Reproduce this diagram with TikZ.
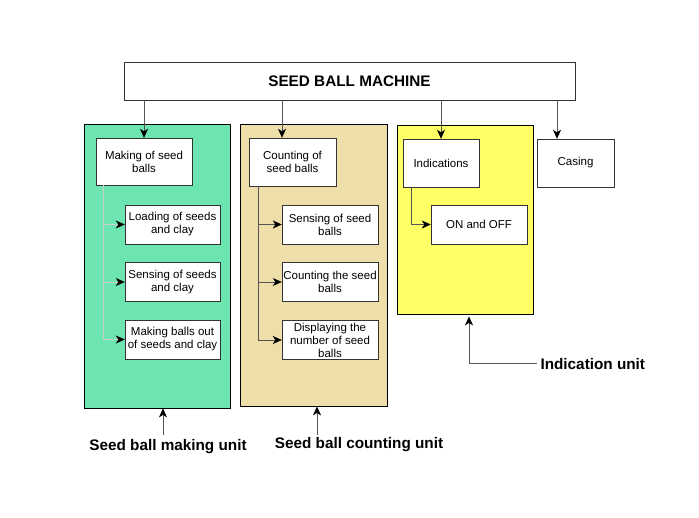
\documentclass[tikz,border=0pt]{standalone}
\usepackage{fontspec}
\setmainfont{Liberation Sans}
\usepackage{xcolor}
\usepackage{tikz}
\usetikzlibrary{arrows.meta,positioning,calc}
\definecolor{makeGreen}{HTML}{6CE5B1}
\definecolor{countTan}{HTML}{EEDFAA}
\definecolor{indYellow}{HTML}{FFFF66}
\definecolor{linkGray}{HTML}{555555}

\begin{document}
\begin{tikzpicture}[
    x=1pt, y=-1pt,
    every node/.style={font=\fontsize{11.5}{13}\selectfont},
    box/.style={draw=black!80,fill=white,align=center,inner sep=1pt},
    panel/.style={draw=black,thick,inner sep=0pt},
    link/.style={draw=linkGray,thick,-{Stealth[length=9pt,width=8pt,inset=2.5pt,color=black]}},
    unitlabel/.style={font=\bfseries\fontsize{15.3}{17}\selectfont}
  ]
  \useasboundingbox (0,0) rectangle (699,518);
  %% Unit panels
  \node[panel,fill=makeGreen,minimum width=146,minimum height=284] (pm) at (157,266) {};
  \node[panel,fill=countTan,minimum width=147,minimum height=282] (pc) at (313.5,265) {};
  \node[panel,fill=indYellow,minimum width=136,minimum height=189] (pi) at (465,219.5) {};
  %% Top level
  \node[box,minimum width=451,minimum height=38,font=\bfseries\fontsize{15.3}{17}\selectfont] (title) at (349.5,81) {SEED BALL MACHINE};
  \node[box,minimum width=96,minimum height=47] (mk) at (144,161.5) {Making of seed\\balls};
  \node[box,minimum width=87,minimum height=48] (ct) at (292.5,162) {Counting of\\seed balls};
  \node[box,minimum width=76,minimum height=48] (ind) at (441,163) {Indications};
  \node[box,minimum width=77,minimum height=48] (cas) at (575.5,163) {Casing};
  \foreach \t/\dx in {mk/0, ct/-10.5, ind/0, cas/-18.5}
    \draw[link] ([xshift=\dx]\t.north |- title.south) -- ([xshift=\dx]\t.north);
  %% Making steps
  \foreach \nm/\y/\txt in {ld/224.5/{Loading of seeds\\and clay}, ss/282/{Sensing of seeds\\and clay}, mb/339.5/{Making balls out\\of seeds and clay}}{
    \node[box,minimum width=95,minimum height=39] (\nm) at (172.5,\y) {\txt};
    \draw[link,draw=white!80!black] ([xshift=8]mk.south west) |- (\nm.west);
  }
  %% Counting steps
  \foreach \nm/\y/\txt in {sb/224.5/{Sensing of seed\\balls}, cb/282/{Counting the seed\\balls}, db/340/{Displaying the\\number of seed\\balls}}{
    \node[box,minimum width=96,minimum height=39,inner sep=0pt] (\nm) at (330,\y) {\txt};
    \draw[link] ([xshift=10]ct.south west) |- (\nm.west);
  }
  %% Indication step
  \node[box,minimum width=96,minimum height=39] (onoff) at (479,224.5) {ON and OFF};
  \draw[link] ([xshift=9]ind.south west) |- (onoff.west);
  %% Unit labels
  \node[unitlabel] (lbm) at (168,447) {Seed ball making unit};
  \node[unitlabel] (lbc) at (359,445) {Seed ball counting unit};
  \node[unitlabel,anchor=west] (lbi) at (537,364) {Indication unit};
  \coordinate (tm) at (163,435);
  \coordinate (tc) at (317,435);
  \coordinate (ti) at (469,363);
  \draw[link] (tm) -- (tm |- pm.south);
  \draw[link] (tc) -- (tc |- pc.south);
  \draw[link,shorten >=2pt] (lbi.west |- ti) -- (ti) -- (ti |- pi.south);
\end{tikzpicture}
\end{document}
